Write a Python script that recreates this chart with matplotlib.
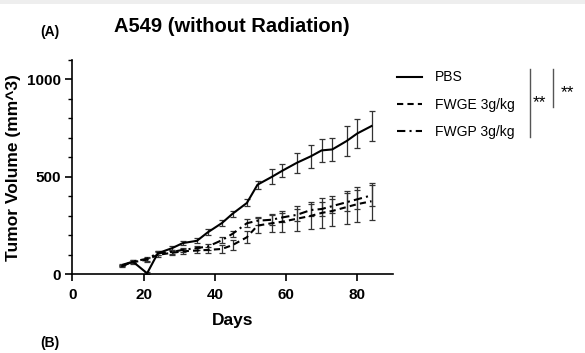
"""A549 tumor volume over time (without radiation)."""
import matplotlib
matplotlib.use("Agg")
import matplotlib.pyplot as plt
from matplotlib.lines import Line2D
from matplotlib.patches import Rectangle
from matplotlib.ticker import MultipleLocator

plt.rcParams["font.family"] = ["Liberation Sans", "DejaVu Sans"]

days = [14, 17, 21, 24, 28, 31, 35, 38, 42, 45, 49, 52, 56, 59, 63, 67, 70, 73, 77, 80, 84]
pbs_mean = [42, 65, 5, 108, 134, 160, 172, 215, 263, 311, 366, 460, 500, 532, 572, 606, 636, 641, 684, 723, 761]
pbs_err = [5, 8, 5, 10, 10, 12, 12, 15, 15, 15, 18, 20, 38, 32, 50, 60, 58, 60, 75, 73, 78]
fwge_mean = [45, 62, 75, 100, 110, 118, 122, 125, 130, 150, 190, 250, 262, 270, 285, 300, 315, 325, 345, 360, 375]
fwge_err = [5, 8, 10, 12, 12, 12, 15, 15, 20, 25, 30, 40, 45, 55, 65, 70, 75, 75, 85, 90, 95]
fwgp_mean = [48, 65, 80, 108, 115, 125, 135, 142, 175, 208, 262, 275, 280, 292, 305, 330, 335, 350, 370, 385, 405]
fwgp_err = [5, 8, 10, 10, 10, 12, 12, 15, 15, 15, 20, 20, 25, 25, 30, 30, 35, 35, 45, 50, 55]

series_labels = ["PBS", "FWGE 3g/kg", "FWGP 3g/kg"]
series_styles = ["-", (0, (3, 2)), (0, (4, 2, 1, 2))]

fig = plt.figure(figsize=(5.85, 3.53), dpi=100)
fig.add_artist(Rectangle((0, 1 - 4 / 353), 1, 4 / 353, transform=fig.transFigure, color="#eeeeee", lw=0))
ax = fig.add_axes([0.1236, 0.223, 0.548, 0.607])

for mean, err, style in zip([pbs_mean, fwge_mean, fwgp_mean], [pbs_err, fwge_err, fwgp_err], series_styles):
    ax.errorbar(days, mean, yerr=err, color="black", lw=1.5, ls=style,
                elinewidth=0.9, ecolor="#333333", capsize=2.2, capthick=0.9)

ax.set_xlim(0, 90)
ax.set_ylim(0, 1100)
ax.set_xticks([0, 20, 40, 60, 80])
ax.set_yticks([0, 500, 1000])
ax.yaxis.set_minor_locator(MultipleLocator(100))
for side in ("top", "right"):
    ax.spines[side].set_visible(False)
for side in ("left", "bottom"):
    ax.spines[side].set_linewidth(1.2)
ax.tick_params(which="major", length=5, width=1.2, labelsize=11)
ax.tick_params(axis="x", pad=5)
ax.tick_params(which="minor", length=3, width=1.0)
for lab in ax.get_xticklabels() + ax.get_yticklabels():
    lab.set_fontweight("bold")
ax.set_xlabel("Days", fontsize=12.5, fontweight="bold", labelpad=8)
ax.set_ylabel("Tumor Volume (mm^3)", fontsize=12.5, fontweight="bold", labelpad=4)

fig.text(0.397, 0.925, "A549 (without Radiation)", fontsize=14.5, fontweight="bold", ha="center", va="center")
fig.text(0.068, 0.908, "(A)", fontsize=10, fontweight="bold", va="center")
fig.text(0.068, 0.028, "(B)", fontsize=10, fontweight="bold", va="center")

handles = [Line2D([], [], color="black", lw=1.5, ls=s) for s in series_styles]
ax.legend(handles, series_labels, loc="upper left", bbox_to_anchor=(0.658, 0.836),
          bbox_transform=fig.transFigure, frameon=False, fontsize=10,
          handlelength=1.8, handletextpad=0.9, labelspacing=0.95)

fig.add_artist(Line2D([530 / 585, 530 / 585], [1 - 69 / 353, 1 - 137 / 353], transform=fig.transFigure, color="#555555", lw=1))
fig.add_artist(Line2D([553 / 585, 553 / 585], [1 - 69 / 353, 1 - 107 / 353], transform=fig.transFigure, color="#555555", lw=1))
fig.text(539 / 585, 1 - 103 / 353, "**", fontsize=12.5, ha="center", va="center")
fig.text(567 / 585, 1 - 93 / 353, "**", fontsize=12.5, ha="center", va="center")

fig.savefig("out.png", dpi=100)
